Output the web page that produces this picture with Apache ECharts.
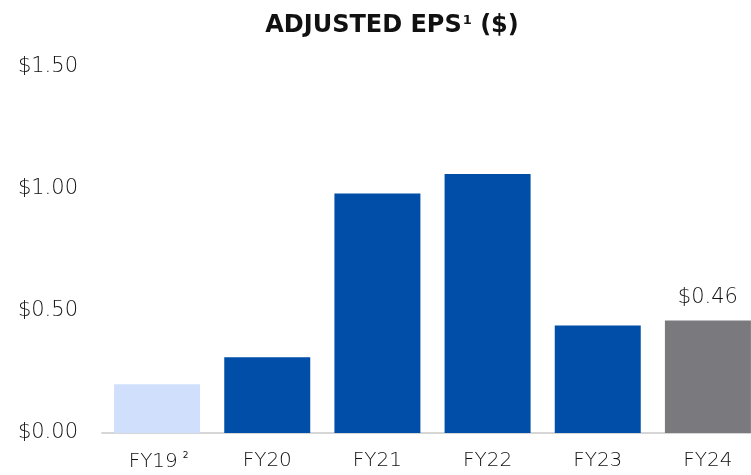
<!DOCTYPE html>
<html>
<head>
<meta charset="utf-8">
<script src="https://cdn.jsdelivr.net/npm/echarts@6/dist/echarts.min.js"></script>
<style>
html,body{margin:0;padding:0;background:#fff;}
#c{width:751px;height:475px;}
</style>
</head>
<body>
<div id="c"></div>
<script>
var categories = ['FY19', 'FY20', 'FY21', 'FY22', 'FY23', 'FY24'];
var categoryNotes = ['2', '', '', '', '', ''];
var epsValues = [0.20, 0.31, 0.98, 1.06, 0.44, 0.46];
var yTicks = [0, 0.5, 1.0, 1.5];
var labelledCategory = 'FY24';

var barColors = ['#cfdffc', '#004ea8', '#004ea8', '#004ea8', '#004ea8', '#7a797e'];
var FONT = '"DejaVu Sans", sans-serif';

var chart = echarts.init(document.getElementById('c'), null, {renderer: 'canvas'});
chart.setOption({
  animation: false,
  title: {
    text: '{t|ADJUSTED EPS}{s|1}{t| ($)}',
    left: 387,
    textAlign: 'center',
    top: 9,
    textStyle: {
      rich: {
        t: {fontFamily: FONT, fontWeight: 'bold', fontSize: 24, color: '#111'},
        s: {fontFamily: FONT, fontWeight: 'bold', fontSize: 13, color: '#111', verticalAlign: 'top', padding: [0, 0, 10, 1]}
      }
    }
  },
  grid: {left: 102, top: 66.5, width: 661, height: 366.5, containLabel: false, outerBoundsMode: 'none'},
  xAxis: {
    type: 'category',
    data: categories,
    axisLine: {show: true, lineStyle: {color: '#d6d6d6', width: 2}},
    axisTick: {show: false},
    axisLabel: {
      margin: 18,
      formatter: function (v, i) {
        var n = categoryNotes[i];
        return n ? '{p|' + v + '}{n|' + n + '}' : '{c|' + v + '}';
      },
      rich: {
        c: {fontFamily: FONT, fontSize: 20, color: '#111', fontWeight: 200},
        p: {fontFamily: FONT, fontSize: 20, color: '#111', fontWeight: 200, padding: [0, 0, 0, 3]},
        n: {fontFamily: FONT, fontSize: 9, color: '#111', verticalAlign: 'top', padding: [0, 0, 12, 5]}
      }
    }
  },
  yAxis: {
    type: 'value',
    min: yTicks[0],
    max: yTicks[yTicks.length - 1],
    interval: yTicks[1] - yTicks[0],
    splitLine: {show: false},
    axisLine: {show: false},
    axisTick: {show: false},
    axisLabel: {
      margin: 24,
      fontFamily: FONT,
      fontSize: 21,
      fontWeight: 200,
      color: '#111',
      formatter: function (v) { return '$' + v.toFixed(2); }
    }
  },
  series: [{
    type: 'bar',
    data: epsValues,
    barWidth: 86,
    itemStyle: {
      color: function (p) { return barColors[p.dataIndex]; }
    },
    label: {
      show: true,
      position: 'top',
      distance: 13,
      fontFamily: FONT,
      fontSize: 21,
      fontWeight: 200,
      color: '#111',
      formatter: function (p) {
        return p.name === labelledCategory ? '$' + p.value.toFixed(2) : '';
      }
    }
  }]
});
</script>
</body>
</html>
